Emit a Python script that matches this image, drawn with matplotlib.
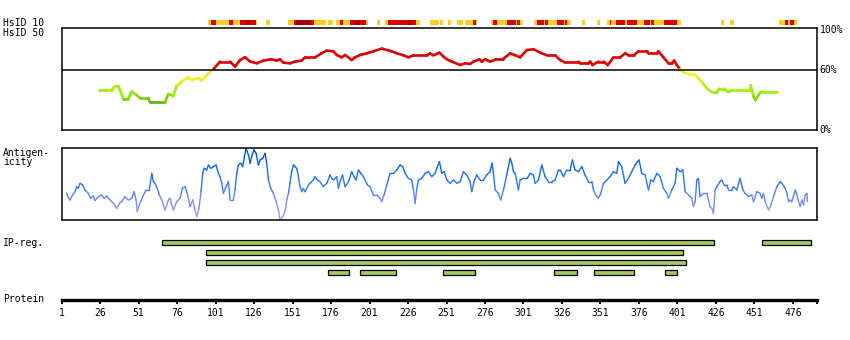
import numpy as np
import matplotlib
matplotlib.use("Agg")
import matplotlib.pyplot as plt
from matplotlib.collections import LineCollection
from matplotlib.colors import LinearSegmentedColormap

plt.rcParams["font.family"] = ["DejaVu Sans Mono"]
plt.rcParams["font.size"] = 7

# ---- data ----
prot_len = 492
tick_res = [1, 26, 51, 76, 101, 126, 151, 176, 201, 226, 251, 276, 301, 326, 351, 376, 401, 426, 451, 476]

# HsID 10 strip (1 = gold, 2 = red, 3 = dark red)
hs10_start = [96, 98, 101, 110, 112, 117, 121, 123, 127, 134, 148, 152, 153, 163, 165, 170, 174, 179, 182, 184,
              188, 192, 195, 199, 206, 211, 213, 226, 228, 231, 240, 247, 252, 258, 263, 268, 270, 280, 281, 284,
              290, 296, 297, 299, 308, 310, 314, 315, 317, 323, 327, 328, 329, 339, 349, 355, 357, 358, 361, 367,
              368, 375, 379, 383, 384, 386, 392, 401, 429, 435, 467, 471, 473, 474, 477]
hs10_end = [98, 101, 110, 112, 117, 121, 123, 127, 128, 136, 152, 153, 163, 165, 170, 173, 177, 182, 184, 188,
            192, 195, 199, 200, 208, 213, 226, 228, 231, 234, 246, 249, 254, 262, 268, 270, 271, 281, 284, 290,
            296, 297, 299, 301, 310, 314, 315, 317, 323, 327, 328, 329, 332, 341, 351, 357, 358, 361, 367, 368,
            375, 379, 383, 384, 386, 392, 401, 403, 431, 438, 471, 473, 474, 477, 479]
hs10_level = [1, 2, 1, 2, 1, 2, 3, 2, 1, 1, 1, 2, 3, 2, 1, 1, 1, 1, 2, 1,
              2, 3, 2, 1, 1, 1, 2, 3, 2, 1, 1, 1, 1, 1, 1, 2, 1, 1, 2, 1,
              2, 1, 2, 1, 1, 2, 1, 2, 1, 2, 1, 2, 1, 1, 1, 1, 2, 1, 2, 1,
              2, 1, 2, 1, 2, 1, 2, 1, 1, 1, 1, 2, 1, 2, 1]

# HsID 50 (% identity)
hs50_res = [25.2, 33.5, 35.6, 37.8, 41, 44.3, 46.5, 49.7, 51.9, 57.3, 58.4, 68.1, 70.3, 73.5, 75.7, 78.9, 83.3,
            85.5, 89.8, 92, 95.2, 99.5, 103.9, 110.4, 113.6, 116.9, 120.1, 123.4, 127.7, 132, 137.4, 140.7, 142.8,
            145, 149.3, 152.6, 156.9, 159.1, 165.6, 169.9, 173.2, 177.5, 179.7, 182.9, 185.1, 189.4, 191.6, 194.8,
            199.2, 203.5, 208.9, 215.4, 218.7, 223, 226.2, 229.5, 238.2, 240.3, 242.5, 246.4, 249, 251.2, 254.4,
            259.8, 263.1, 266.3, 268.5, 272.4, 273.9, 276.1, 279.3, 283.2, 287.5, 292.3, 295.6, 298.8, 303.2,
            307.5, 311.8, 316.2, 321.6, 324.8, 327, 336.7, 337.8, 343.2, 344.3, 345.8, 349.7, 353, 355.8, 359.5,
            363.8, 367.1, 369.2, 372.5, 375.7, 381.1, 382.2, 387.6, 388.7, 391.9, 395.2, 397.3, 398.9, 400.6,
            402.8, 405, 408.2, 410.4, 412.5, 414.7, 418, 420.1, 423.4, 426.6, 428.3, 430.9, 434.2, 436.4, 448.3,
            448.7, 450.5, 451.6, 454.8, 455.9, 466]
hs50_val = [40.3, 40.3, 44.3, 44.3, 31.7, 31.7, 38.7, 35.3, 32, 32, 28, 28, 36.3, 34.3, 44.3, 48.7, 52.7,
            50.3, 52.3, 49.7, 55.3, 61, 68.7, 68.7, 63.7, 70.3, 73, 68.7, 67, 69.7, 71, 69.7, 71,
            67.7, 67, 68.7, 69.7, 73, 73, 77, 79.7, 79, 75.3, 73, 75.3, 70.3, 73, 75.3,
            77, 79, 81.7, 79, 77, 75, 73, 75, 75, 77, 75, 77.7, 73.7, 71, 68.7,
            65.3, 67, 66.3, 68.7, 71, 68.7, 71, 68.7, 71, 71, 77, 75, 73, 80.3,
            81, 77.7, 75, 75, 70.3, 68.7, 68.7, 67, 67, 68.7, 65.3, 68.7, 68.7, 65.3, 73,
            73, 77, 75, 75, 79, 79, 77, 77, 79, 73, 67, 67, 69.7, 65.3,
            61, 57.7, 56.3, 55.3, 55.7, 52, 46.3, 42, 38.3, 38.3, 41.7, 41.7, 38.3, 40.3, 40.3,
            45, 33.7, 30.3, 37.7, 38.7, 38.7]

# Antigenicity
ag_res = [4.2, 5.3, 6.4, 7.5, 9.6, 10.7, 11.8, 12.9, 14.6, 16.1, 18.3, 19.8, 21.6, 22.6, 24.8, 27.0, 28.5, 30.2,
          32.4, 34.6, 36.7, 38.5, 40.0, 42.1, 44.3, 46.5, 48.0, 49.3, 50.1, 51.4, 53.6, 55.8, 57.9, 59.5, 60.5,
          61.6, 63.1, 64.4, 66.0, 67.0, 68.1, 69.2, 70.3, 71.4, 72.5, 73.5, 75.7, 77.9, 79.4, 81.1, 82.6, 84.4,
          86.1, 87.6, 88.7, 90.2, 91.5, 92.6, 93.5, 95.2, 96.3, 97.8, 99.5, 101.3, 102.8, 103.9, 105.0, 106.0,
          107.8, 109.3, 110.4, 112.5, 113.6, 114.7, 115.8, 117.3, 118.6, 119.7, 120.8, 122.3, 123.4, 124.4,
          125.9, 127.3, 128.8, 129.9, 131.6, 133.1, 134.2, 135.3, 136.8, 138.5, 140.3, 141.8, 142.9, 144.6,
          146.1, 147.2, 148.3, 149.3, 150.4, 151.5, 152.6, 153.7, 154.8, 155.8, 156.9, 158.0, 159.1, 160.2,
          161.3, 162.3, 164.5, 165.6, 167.1, 168.8, 171.0, 173.2, 175.3, 176.4, 177.5, 179.7, 180.8, 181.8,
          183.4, 185.1, 187.3, 189.4, 190.9, 192.2, 193.8, 195.3, 197.0, 199.6, 201.3, 203.5, 205.7, 207.8,
          208.9, 210.4, 212.2, 214.3, 216.5, 218.7, 220.8, 222.6, 224.1, 226.2, 228.4, 229.5, 230.6, 231.7,
          232.7, 234.9, 237.1, 239.2, 241.4, 243.6, 244.6, 246.4, 247.9, 249.4, 251.2, 253.3, 255.5, 257.7,
          259.8, 262.0, 264.1, 266.3, 267.4, 268.9, 270.6, 272.8, 275.0, 277.1, 279.3, 280.6, 281.5, 282.6,
          284.7, 286.2, 288.0, 290.1, 292.3, 293.4, 294.5, 295.6, 297.7, 298.8, 301.0, 303.1, 304.2, 305.3,
          307.5, 308.5, 310.7, 312.9, 315.0, 317.2, 319.4, 321.5, 323.7, 324.8, 327.0, 329.1, 331.3, 332.8,
          334.5, 336.7, 338.9, 341.0, 343.2, 345.4, 346.4, 348.6, 349.7, 350.8, 353.0, 355.1, 357.3, 359.4,
          361.6, 362.7, 364.8, 367.0, 369.2, 371.3, 373.5, 375.0, 376.1, 377.8, 380.0, 382.2, 383.7, 385.4,
          387.6, 389.8, 391.9, 394.1, 395.2, 397.3, 399.5, 400.6, 402.8, 404.5, 406.0, 408.2, 410.3, 411.4,
          412.5, 413.6, 414.7, 415.7, 417.9, 420.1, 422.2, 423.3, 424.4, 425.5, 426.6, 428.7, 429.8, 431.3,
          433.1, 434.2, 436.3, 437.4, 439.6, 441.7, 443.5, 445.0, 447.2, 449.3, 450.4, 452.6, 454.7, 455.8,
          456.9, 458.0, 460.2, 461.7, 463.4, 465.6, 467.7, 468.8, 471.0, 472.1, 473.2, 474.2, 475.3, 477.5,
          478.6, 479.7, 480.7, 481.8, 482.9, 484.0, 485.1, 485.5]
ag_val = [37.2, 31.6, 27.9, 32.6, 39.5, 46.5, 44.2, 51.2, 48.8, 41.9, 37.2, 30.2, 33.5, 27.0, 32.6, 34.9, 30.2, 33.5,
          27.9, 23.3, 16.3, 23.3, 25.6, 32.6, 27.9, 30.2, 39.5, 27.9, 11.6, 20.9, 32.6, 41.9, 41.9, 65.1, 53.5,
          51.2, 44.2, 34.9, 27.9, 20.9, 14.0, 20.9, 27.9, 30.2, 20.9, 14.0, 25.6, 30.2, 44.2, 46.5, 37.2, 18.6,
          27.9, 14.0, 4.7, 16.3, 39.5, 65.1, 72.1, 69.8, 76.7, 72.1, 74.4, 76.7, 65.1, 60.5, 51.2, 37.2,
          46.5, 53.5, 27.9, 27.9, 41.9, 65.1, 76.7, 79.1, 74.4, 88.4, 100, 90.7, 79.1, 88.4,
          97.7, 93.0, 76.7, 83.7, 86.0, 93.0, 79.1, 55.8, 44.2, 37.2, 25.6, 14.0, 0, 4.7,
          11.6, 27.9, 37.2, 51.2, 67.4, 76.7, 74.4, 72.1, 60.5, 46.5, 39.5, 44.2, 39.5, 44.2,
          48.8, 51.2, 55.8, 60.5, 55.8, 53.5, 46.5, 51.2, 62.8, 58.1, 55.8, 60.5, 44.2, 53.5,
          62.8, 46.5, 53.5, 67.4, 60.5, 55.8, 69.8, 65.1, 60.5, 48.8, 46.5, 34.9, 34.9, 30.2,
          25.6, 34.9, 48.8, 65.1, 65.1, 69.8, 76.7, 74.4, 65.1, 58.1, 55.8, 41.9, 23.3, 44.2,
          55.8, 58.1, 65.1, 67.4, 60.5, 65.1, 72.1, 81.4, 65.1, 67.4, 55.8, 51.2, 55.8, 51.2,
          53.5, 67.4, 62.8, 53.5, 39.5, 53.5, 62.8, 55.8, 55.8, 62.8, 67.4, 79.1, 65.1, 41.9,
          37.2, 27.9, 41.9, 62.8, 86.0, 79.1, 67.4, 65.1, 41.9, 55.8, 58.1, 58.1, 60.5, 65.1,
          62.8, 51.2, 55.8, 76.7, 60.5, 53.5, 53.5, 55.8, 69.8, 69.8, 60.5, 69.8, 69.8, 83.7,
          69.8, 67.4, 74.4, 62.8, 53.5, 53.5, 41.9, 32.6, 30.2, 34.9, 51.2, 55.8, 60.5, 67.4,
          65.1, 81.4, 74.4, 51.2, 58.1, 67.4, 76.7, 81.4, 83.7, 65.1, 62.8, 41.9, 55.8, 53.5,
          65.1, 60.5, 44.2, 37.2, 30.2, 41.9, 51.2, 72.1, 67.4, 69.8, 39.5, 34.9, 30.2, 18.6,
          25.6, 55.8, 58.1, 32.6, 37.2, 37.2, 18.6, 16.3, 9.3, 41.9, 46.5, 53.5, 55.8, 48.8,
          48.8, 41.9, 41.9, 46.5, 41.9, 58.1, 41.9, 37.2, 32.6, 34.9, 25.6, 39.5, 37.2, 30.2,
          37.2, 25.6, 14.0, 20.9, 32.6, 46.5, 53.5, 51.2, 44.2, 37.2, 25.6, 27.9, 25.6, 41.9,
          34.9, 25.6, 18.6, 27.9, 20.9, 34.9, 37.2, 25.6]

# IP regions: row, start, end
ip_row = [0, 0, 1, 2, 3, 3, 3, 3, 3, 3]
ip_start = [66, 456, 95, 95, 174, 195, 249, 321, 347, 393]
ip_end = [425, 488, 404.5, 406.5, 187.5, 218.5, 269.5, 336, 373, 401]

# ---- layout helpers (pixel positions in an 850x340 canvas) ----
W, H = 850, 340
X0, X1 = 61.7, 817.5


def rect(top, bottom):
    return [X0 / W, 1 - bottom / H, (X1 - X0) / W, (bottom - top) / H]


def colored_line(ax, x, y, cmap_fn, lw):
    x = np.asarray(x, dtype=float)
    y = np.asarray(y, dtype=float)
    pts = np.column_stack([x, y]).reshape(-1, 1, 2)
    segs = np.concatenate([pts[:-1], pts[1:]], axis=1)
    mids = (y[:-1] + y[1:]) / 2
    lc = LineCollection(segs, colors=[cmap_fn(m) for m in mids], linewidths=lw, capstyle="round")
    ax.add_collection(lc)


def bare(ax):
    ax.set_xticks([])
    ax.set_yticks([])


fig = plt.figure(figsize=(8.5, 3.4), dpi=100)

# HsID 10 strip
ax10 = fig.add_axes(rect(20, 25))
lvl_colors = {1: "#ffcc22", 2: "#dd0000", 3: "#a80000"}
for s, e, l in zip(hs10_start, hs10_end, hs10_level):
    ax10.axvspan(s, e, color=lvl_colors[l], lw=0)
ax10.set_xlim(1, prot_len)
ax10.set_ylim(0, 1)
ax10.axis("off")

# HsID 50 box
ax50 = fig.add_axes(rect(28.3, 130.3))
hs_cmap = LinearSegmentedColormap.from_list(
    "hs", [(0.0, "#55b000"), (0.12, "#77cc00"), (0.35, "#99ee00"), (0.55, "#bbee11"),
           (0.72, "#eeee22"), (0.88, "#ffee22"), (1.0, "#ffdd22")])


def hs_color(v):
    if v >= 60:
        return "#dd0000"
    return hs_cmap(min(max((v - 27) / 33.0, 0), 1))


colored_line(ax50, hs50_res, hs50_val, hs_color, 1.9)
ax50.axhline(60, color="black", lw=1.1)
ax50.set_xlim(1, prot_len)
ax50.set_ylim(0, 102)
bare(ax50)
for sp in ax50.spines.values():
    sp.set_linewidth(1.1)
for v, lab in [(100, "100%"), (60, "60%"), (0, "0%")]:
    ax50.text(1.003, v, lab, transform=ax50.get_yaxis_transform(), va="center", ha="left", fontsize=7)

# Antigenicity box
axag = fig.add_axes(rect(148.3, 220))
ag_cmap = LinearSegmentedColormap.from_list(
    "ag", [(0.0, "#ac9cff"), (0.15, "#8c94ff"), (0.3, "#6a88ff"), (0.45, "#3a78ff"),
           (0.65, "#1a6cf4"), (0.9, "#0055cc"), (1.0, "#0050c0")])
colored_line(axag, ag_res, ag_val, lambda v: ag_cmap(v / 100.0), 1.0)
axag.set_xlim(1, prot_len)
axag.set_ylim(0, 100)
bare(axag)
for sp in axag.spines.values():
    sp.set_linewidth(1.1)

# IP regions
axip = fig.add_axes(rect(232.3, 282.3))
for r, s, e in zip(ip_row, ip_start, ip_end):
    axip.barh(r, e - s, left=s, height=0.45, color="#a5c85f", edgecolor="black", linewidth=0.9)
axip.set_xlim(1, prot_len)
axip.set_ylim(4, -1)
axip.axis("off")

# Protein ruler
axp = fig.add_axes(rect(290, 300))
axp.set_xlim(1, prot_len)
for side in ["top", "left", "right"]:
    axp.spines[side].set_visible(False)
axp.spines["bottom"].set_linewidth(2.4)
axp.set_yticks([])
axp.set_xticks(tick_res + [prot_len])
axp.set_xticklabels([str(t) for t in tick_res] + [""])
axp.tick_params(axis="x", direction="out", length=3, width=1.4, pad=2.5, labelsize=7)
axp.patch.set_visible(False)

# left labels
for y, txt in [(22.5, "HsID 10"), (33, "HsID 50"), (152.5, "Antigen-"), (162, "icity"),
               (243, "IP-reg."), (299.5, "Protein")]:
    fig.text(3 / W, 1 - y / H, txt, ha="left", va="center", fontsize=7)

fig.savefig("out.png", dpi=100)
